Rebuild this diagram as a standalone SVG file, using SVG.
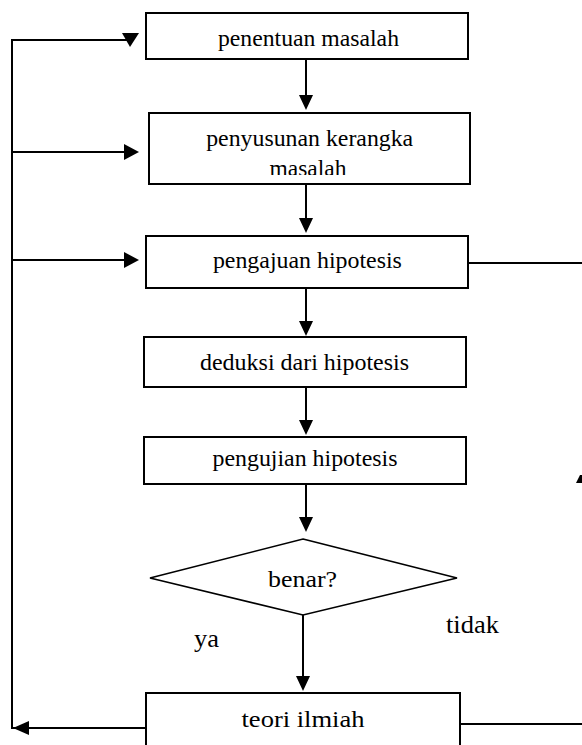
<svg xmlns="http://www.w3.org/2000/svg" width="582" height="745" viewBox="0 0 582 745">
<style>
.box{fill:#fff;stroke:#000;stroke-width:2}
.ln{fill:none;stroke:#000;stroke-width:2}
.ah{fill:#000;stroke:none}
.t{font-family:"Liberation Serif","Times New Roman",serif;font-size:24px;fill:#000;text-anchor:middle}
.tl{font-family:"Liberation Serif","Times New Roman",serif;font-size:26px;fill:#000}
</style>
<defs>
<clipPath id="c2"><rect x="150" y="114" width="319" height="61"/></clipPath>
</defs>
<rect width="582" height="745" fill="#fff"/>
<g id="connectors">
<polyline class="ln" points="128,40 12,40 12,728 28,728"/>
<line class="ln" x1="28" y1="728" x2="146" y2="728"/>
<polygon class="ah" points="13,728 29,721 29,735"/>
<polygon class="ah" points="122,33 139,33 130,47"/>
<line class="ln" x1="12" y1="152" x2="125" y2="152"/>
<polygon class="ah" points="139,152 124,144 124,160"/>
<line class="ln" x1="12" y1="260" x2="125" y2="260"/>
<polygon class="ah" points="139,260 124,252 124,268"/>
<line class="ln" x1="306" y1="59" x2="306" y2="96"/>
<polygon class="ah" points="306,110 299,95 313,95"/>
<line class="ln" x1="306" y1="184" x2="306" y2="219"/>
<polygon class="ah" points="306,233 299,218 313,218"/>
<line class="ln" x1="306" y1="288" x2="306" y2="322"/>
<polygon class="ah" points="306,336 299,321 313,321"/>
<line class="ln" x1="306" y1="387" x2="306" y2="421"/>
<polygon class="ah" points="306,435 299,420 313,420"/>
<line class="ln" x1="306" y1="484" x2="306" y2="518"/>
<polygon class="ah" points="306,532 299,517 313,517"/>
<line class="ln" x1="303" y1="615" x2="303" y2="677"/>
<polygon class="ah" points="303,691 296,676 310,676"/>
<line class="ln" x1="468" y1="263" x2="582" y2="263"/>
<line class="ln" x1="460" y1="724" x2="582" y2="724"/>
<polygon class="ah" points="576,483 580,475 582,475 582,483"/>
</g>
<g id="n1">
<rect class="box" x="146" y="13" width="322" height="46"/>
<text class="t" x="308.5" y="46" textLength="181" lengthAdjust="spacingAndGlyphs">penentuan masalah</text>
</g>
<g id="n2">
<rect class="box" x="149" y="113" width="321" height="71"/>
<g clip-path="url(#c2)">
<text class="t" x="309.7" y="146" textLength="207" lengthAdjust="spacingAndGlyphs">penyusunan kerangka</text>
<text class="t" x="308" y="176" textLength="77" lengthAdjust="spacingAndGlyphs">masalah</text>
</g>
</g>
<g id="n3">
<rect class="box" x="146" y="236" width="322" height="52"/>
<text class="t" x="307.4" y="268" textLength="189" lengthAdjust="spacingAndGlyphs">pengajuan hipotesis</text>
</g>
<g id="n4">
<rect class="box" x="144" y="337" width="322" height="50"/>
<text class="t" x="304.5" y="370" textLength="209" lengthAdjust="spacingAndGlyphs">deduksi dari hipotesis</text>
</g>
<g id="n5">
<rect class="box" x="144" y="437" width="322" height="47"/>
<text class="t" x="305" y="466" textLength="185" lengthAdjust="spacingAndGlyphs">pengujian hipotesis</text>
</g>
<g id="n6">
<polygon points="303,539 457,578 303,615 150,578" fill="#fff" stroke="#000" stroke-width="1.6"/>
<text class="t" x="302.5" y="587" font-size="26" textLength="69" lengthAdjust="spacingAndGlyphs">benar?</text>
</g>
<g id="n7">
<rect class="box" x="146" y="693" width="314" height="60"/>
<text class="t" x="303" y="727" font-size="26" textLength="123" lengthAdjust="spacingAndGlyphs">teori ilmiah</text>
</g>
<g id="labels">
<text class="tl" x="194" y="647" textLength="25" lengthAdjust="spacingAndGlyphs">ya</text>
<text class="tl" x="446" y="633" textLength="53" lengthAdjust="spacingAndGlyphs">tidak</text>
</g>
</svg>
